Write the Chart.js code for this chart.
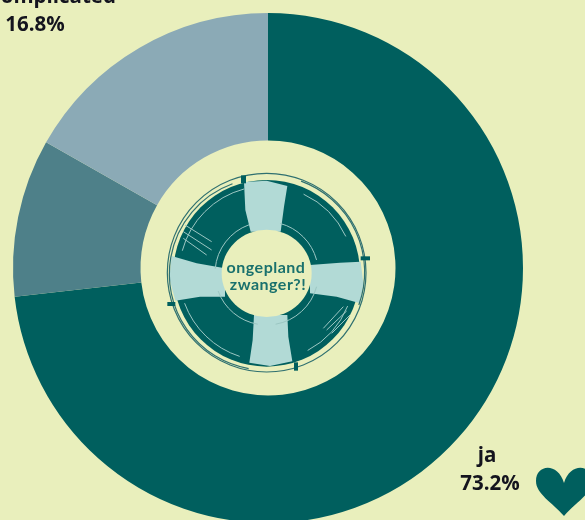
<!DOCTYPE html>
<html>
<head>
<meta charset="utf-8">
<title>ongepland zwanger?!</title>
<script src="https://cdn.jsdelivr.net/npm/chart.js@4"></script>
<style>
  html, body { margin: 0; padding: 0; background: #e9efbc; }
  #wrap { width: 585px; height: 520px; overflow: hidden; position: relative; }
  canvas { display: block; filter: blur(0.6px); }
</style>
</head>
<body>
<div id="wrap"><canvas id="pie" width="585" height="536"></canvas></div>
<script>
// Answers and their share in percent, clockwise from the top
const categories = ['ja', 'nee', "it's complicated"];
const shares = [73.2, 10.0, 16.8];
const sliceColors = ['#005f5e', '#4e8089', '#8baab6'];

const darkTeal = '#005f5e';
const paleTeal = '#b2dad6';
const textColor = '#14141e';

// Where the outside labels sit; the middle slice's label is outside the crop
const labelSpots = [
  { index: 0, x: 487, y: 456, dx: 3 },
  { index: 2, x: 35, y: -3, dx: 0 }
];

// Labels of the two visible slices
const sliceLabels = {
  id: 'sliceLabels',
  afterDraw(chart) {
    const ctx = chart.ctx;
    ctx.save();
    ctx.fillStyle = textColor;
    ctx.font = 'bold 20.5px "Open Sans"';
    ctx.textAlign = 'center';
    ctx.textBaseline = 'middle';
    labelSpots.forEach(spot => {
      ctx.fillText(categories[spot.index], spot.x, spot.y);
      ctx.fillText(shares[spot.index].toFixed(1) + '%', spot.x + spot.dx, spot.y + 28);
    });
    ctx.restore();
  }
};

// Heart in the bottom right corner
const heart = {
  id: 'heart',
  afterDraw(chart) {
    const ctx = chart.ctx;
    ctx.save();
    ctx.fillStyle = darkTeal;
    ctx.beginPath();
    ctx.moveTo(564, 516);
    ctx.bezierCurveTo(552, 502, 536, 494, 536, 481);
    ctx.bezierCurveTo(536, 464, 558, 462, 564, 483);
    ctx.bezierCurveTo(570, 462, 592, 464, 592, 481);
    ctx.bezierCurveTo(592, 494, 576, 502, 564, 516);
    ctx.fill();
    ctx.restore();
  }
};

// Lifebuoy logo in the hole, points in a 3x grid
function gx(v) { return 140 + v / 3; }
function gy(v) { return 150 + v / 3; }

function polygon(ctx, pts) {
  ctx.beginPath();
  pts.forEach((p, i) => {
    if (i === 0) ctx.moveTo(gx(p[0]), gy(p[1]));
    else ctx.lineTo(gx(p[0]), gy(p[1]));
  });
  ctx.closePath();
  ctx.fill();
}

function line(ctx, x1, y1, x2, y2) {
  ctx.beginPath();
  ctx.moveTo(gx(x1), gy(y1));
  ctx.lineTo(gx(x2), gy(y2));
  ctx.stroke();
}

function arc(ctx, cx, cy, r, from, to) {
  ctx.beginPath();
  ctx.arc(gx(cx), gy(cy), r / 3, from * Math.PI / 180, to * Math.PI / 180);
  ctx.stroke();
}

const logo = {
  id: 'logo',
  afterDraw(chart) {
    const ctx = chart.ctx;
    ctx.save();

    // dark ring
    ctx.fillStyle = darkTeal;
    ctx.beginPath();
    ctx.arc(gx(380), gy(370), 280 / 3, 0, Math.PI * 2);
    ctx.fill();

    // pale bands
    ctx.fillStyle = paleTeal;
    polygon(ctx, [[312, 96], [380, 92], [442, 108], [432, 170], [422, 245], [332, 245], [316, 180]]);
    polygon(ctx, [[510, 345], [600, 338], [662, 335], [670, 400], [660, 460], [590, 440], [510, 430]]);
    polygon(ctx, [[342, 495], [442, 495], [445, 560], [457, 634], [390, 648], [328, 638], [338, 570]]);
    polygon(ctx, [[95, 318], [170, 340], [255, 355], [255, 440], [180, 440], [106, 452], [88, 385]]);

    // hole
    ctx.fillStyle = '#e9efbc';
    ctx.beginPath();
    ctx.ellipse(gx(380), gy(370), 135 / 3, 131 / 3, 0, 0, Math.PI * 2);
    ctx.fill();

    // sketchy outer lines
    ctx.strokeStyle = '#2f7070';
    ctx.lineWidth = 1.2;
    arc(ctx, 380, 368, 298, 0, 360);
    arc(ctx, 376, 372, 288, 100, 250);
    arc(ctx, 384, 366, 290, -70, 20);

    // little caps where the rope is tied
    ctx.fillStyle = darkTeal;
    polygon(ctx, [[303, 76], [318, 76], [318, 100], [303, 100]]);
    polygon(ctx, [[662, 319], [690, 319], [690, 331], [662, 331]]);
    polygon(ctx, [[462, 637], [474, 637], [474, 662], [462, 662]]);
    polygon(ctx, [[82, 456], [106, 456], [106, 468], [82, 468]]);

    // pale highlights on the dark parts
    ctx.strokeStyle = '#9cc7c3';
    ctx.lineWidth = 1;
    line(ctx, 135, 225, 215, 275);
    line(ctx, 130, 245, 215, 300);
    line(ctx, 130, 265, 200, 315);
    line(ctx, 610, 470, 550, 535);
    line(ctx, 620, 483, 560, 540);
    line(ctx, 630, 495, 575, 550);
    arc(ctx, 380, 370, 262, 195, 255);
    arc(ctx, 380, 370, 262, -65, -25);
    arc(ctx, 380, 370, 262, 22, 62);
    arc(ctx, 380, 370, 262, 108, 160);
    arc(ctx, 380, 370, 155, 185, 250);
    arc(ctx, 380, 370, 155, -75, -15);
    arc(ctx, 380, 370, 155, 15, 80);
    arc(ctx, 380, 370, 155, 100, 160);

    // name in the middle
    ctx.fillStyle = '#1a716d';
    ctx.font = 'bold 16px Lato';
    ctx.letterSpacing = '0.5px';
    ctx.textAlign = 'center';
    ctx.textBaseline = 'middle';
    ctx.fillText('ongepland', 266, 268);
    ctx.fillText('zwanger?!', 268, 285);
    ctx.restore();
  }
};

// Build the chart
const pieChart = new Chart(document.getElementById('pie').getContext('2d'), {
  type: 'doughnut',
  data: {
    labels: categories,
    datasets: [{
      data: shares,
      backgroundColor: sliceColors,
      borderWidth: 0
    }]
  },
  options: {
    responsive: false,
    animation: false,
    cutout: '50%',
    layout: { padding: { left: 13, top: 13, right: 62, bottom: 13 } },
    plugins: {
      legend: { display: false },
      tooltip: { enabled: false }
    }
  },
  plugins: [logo, sliceLabels, heart]
});
</script>
</body>
</html>
